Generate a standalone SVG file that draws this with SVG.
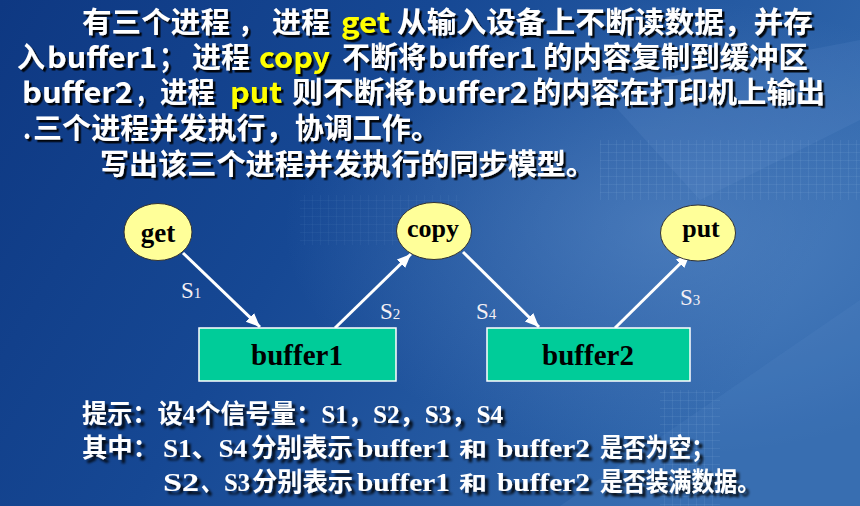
<svg xmlns="http://www.w3.org/2000/svg" width="860" height="506" viewBox="0 0 860 506">
  <defs>
    <linearGradient id="bg" x1="0" y1="0" x2="1" y2="0.35">
      <stop offset="0" stop-color="#0E3882"/>
      <stop offset="0.45" stop-color="#164894"/>
      <stop offset="1" stop-color="#3168AD"/>
    </linearGradient>
    <radialGradient id="glow" cx="0.78" cy="0.45" r="0.45">
      <stop offset="0" stop-color="#6F9CD4" stop-opacity="0.45"/>
      <stop offset="1" stop-color="#6F9CD4" stop-opacity="0"/>
    </radialGradient>
    <pattern id="grid" width="8" height="8" patternUnits="userSpaceOnUse">
      <path d="M8,0 L0,0 0,8" fill="none" stroke="#8FB3E0" stroke-opacity="0.25" stroke-width="1"/>
    </pattern>
    <filter id="sh" x="-5%" y="-20%" width="110%" height="150%">
      <feDropShadow dx="2.5" dy="2.5" stdDeviation="0.3" flood-color="#000" flood-opacity="0.9"/>
    </filter>
    <filter id="sh2" x="-5%" y="-20%" width="110%" height="150%">
      <feDropShadow dx="3.5" dy="3.5" stdDeviation="0.8" flood-color="#000" flood-opacity="0.85"/>
    </filter>
    <marker id="ah" markerUnits="userSpaceOnUse" markerWidth="16" markerHeight="14" refX="14" refY="6" orient="auto">
      <path d="M0,0 L14,6 L0,12 z" fill="#FFFFFF"/>
    </marker>
    <style>
      .t { font-family: "Noto Sans CJK SC", "Noto Sans", sans-serif; font-weight: bold; font-size: 29px; fill: #FFFFFF; filter: url(#sh); }
      .y { fill: #FFFF00; }
      .b { font-family: "Liberation Serif", "Noto Sans CJK SC", serif; font-weight: bold; font-size: 26px; fill: #FFFFFF; filter: url(#sh2); }
      .node ellipse { fill: #FFFF99; stroke: #333333; stroke-width: 1; }
      .node rect { fill: #00CC99; stroke: #FFFFFF; stroke-width: 1.5; }
      .lbl { font-family: "Liberation Serif", serif; font-weight: bold; fill: #000000; text-anchor: middle; }
      .s { font-family: "Liberation Serif", serif; fill: #F4F0F4; }
      .conn line { stroke: #FFFFFF; stroke-width: 3; marker-end: url(#ah); }
    </style>
  </defs>

  <!-- background -->
  <rect width="860" height="506" fill="url(#bg)"/>
  <rect width="860" height="506" fill="url(#glow)"/>
  <path d="M560,506 L860,300 L860,506 Z" fill="#5B8CC8" fill-opacity="0.18"/>
  <path d="M600,90 L860,40 L860,120 L700,200 Z" fill="#7FA7DA" fill-opacity="0.12"/>
  <rect x="600" y="140" width="260" height="60" fill="url(#grid)"/>
  <rect x="660" y="390" width="60" height="116" fill="url(#grid)"/>
  <rect x="300" y="195" width="160" height="50" fill="url(#grid)" opacity="0.5"/>

  <!-- title text -->
  <g id="title">
    <text class="t" y="33">
      <tspan x="82" textLength="148" lengthAdjust="spacingAndGlyphs">有三个进程</tspan>
      <tspan x="238" textLength="26" lengthAdjust="spacingAndGlyphs">，</tspan>
      <tspan x="272" textLength="58" lengthAdjust="spacingAndGlyphs">进程</tspan>
      <tspan x="341" class="y" textLength="49" lengthAdjust="spacingAndGlyphs">get</tspan>
      <tspan x="397" textLength="416" lengthAdjust="spacingAndGlyphs">从输入设备上不断读数据，并存</tspan>
    </text>
    <text class="t" y="68">
      <tspan x="17" textLength="28" lengthAdjust="spacingAndGlyphs">入</tspan>
      <tspan x="47" textLength="110" lengthAdjust="spacingAndGlyphs">buffer1</tspan>
      <tspan x="159" textLength="26" lengthAdjust="spacingAndGlyphs">；</tspan>
      <tspan x="192" textLength="58" lengthAdjust="spacingAndGlyphs">进程</tspan>
      <tspan x="259" class="y" textLength="71" lengthAdjust="spacingAndGlyphs">copy</tspan>
      <tspan x="342" textLength="84" lengthAdjust="spacingAndGlyphs">不断将</tspan>
      <tspan x="428" textLength="109" lengthAdjust="spacingAndGlyphs">buffer1</tspan>
      <tspan x="543" textLength="265" lengthAdjust="spacingAndGlyphs">的内容复制到缓冲区</tspan>
    </text>
    <text class="t" y="103">
      <tspan x="22" textLength="111" lengthAdjust="spacingAndGlyphs">buffer2</tspan>
      <tspan x="135" textLength="22" lengthAdjust="spacingAndGlyphs">，</tspan>
      <tspan x="160" textLength="55" lengthAdjust="spacingAndGlyphs">进程</tspan>
      <tspan x="230" class="y" textLength="52" lengthAdjust="spacingAndGlyphs">put</tspan>
      <tspan x="292" textLength="123" lengthAdjust="spacingAndGlyphs">则不断将</tspan>
      <tspan x="417" textLength="111" lengthAdjust="spacingAndGlyphs">buffer2</tspan>
      <tspan x="532" textLength="293" lengthAdjust="spacingAndGlyphs">的内容在打印机上输出</tspan>
    </text>
    <text class="t" y="139">
      <tspan x="23" textLength="8" lengthAdjust="spacingAndGlyphs">.</tspan>
      <tspan x="33" textLength="407" lengthAdjust="spacingAndGlyphs">三个进程并发执行，协调工作。</tspan>
    </text>
    <text class="t" y="175" x="100" textLength="495" lengthAdjust="spacingAndGlyphs">写出该三个进程并发执行的同步模型。</text>
  </g>

  <!-- connectors -->
  <g id="connectors" class="conn">
    <line x1="183" y1="253" x2="260" y2="327"/>
    <line x1="335" y1="328" x2="411" y2="254"/>
    <line x1="463" y1="252" x2="539" y2="327"/>
    <line x1="615" y1="328" x2="690" y2="254"/>
    <text class="s" x="181" y="298"><tspan font-size="23">S</tspan><tspan font-size="15">1</tspan></text>
    <text class="s" x="380" y="319"><tspan font-size="23">S</tspan><tspan font-size="15">2</tspan></text>
    <text class="s" x="476" y="319"><tspan font-size="23">S</tspan><tspan font-size="15">4</tspan></text>
    <text class="s" x="680" y="305"><tspan font-size="23">S</tspan><tspan font-size="15">3</tspan></text>
  </g>

  <!-- nodes -->
  <g id="get" class="node">
    <ellipse cx="158" cy="232" rx="34" ry="28.5"/>
    <text class="lbl" x="158" y="242" font-size="27">get</text>
  </g>
  <g id="copy" class="node">
    <ellipse cx="434" cy="231" rx="37.5" ry="28.5"/>
    <text class="lbl" x="433" y="237" font-size="26">copy</text>
  </g>
  <g id="put" class="node">
    <ellipse cx="698" cy="233" rx="37.5" ry="28"/>
    <text class="lbl" x="701" y="237" font-size="26">put</text>
  </g>
  <g id="buffer1" class="node">
    <rect x="199" y="328" width="197" height="53"/>
    <text class="lbl" x="297" y="365" font-size="29">buffer1</text>
  </g>
  <g id="buffer2" class="node">
    <rect x="487" y="328" width="203" height="53"/>
    <text class="lbl" x="588" y="365" font-size="29">buffer2</text>
  </g>

  <!-- hint text -->
  <g id="hint">
    <text class="b" x="82" y="423" textLength="421" lengthAdjust="spacingAndGlyphs">提示：设4个信号量：S1，S2，S3，S4</text>
    <text class="b" y="457">
      <tspan x="82" textLength="76" lengthAdjust="spacingAndGlyphs">其中：</tspan>
      <tspan x="163" textLength="84" lengthAdjust="spacingAndGlyphs">S1、S4</tspan>
      <tspan x="251" textLength="102" lengthAdjust="spacingAndGlyphs">分别表示</tspan>
      <tspan x="357" textLength="93" lengthAdjust="spacingAndGlyphs">buffer1</tspan>
      <tspan x="459" textLength="28" lengthAdjust="spacingAndGlyphs" font-size="20">和</tspan>
      <tspan x="497" textLength="93" lengthAdjust="spacingAndGlyphs">buffer2</tspan>
      <tspan x="600" textLength="114" lengthAdjust="spacingAndGlyphs">是否为空；</tspan>
    </text>
    <text class="b" y="491">
      <tspan x="163" textLength="36" lengthAdjust="spacingAndGlyphs">S2</tspan>
      <tspan x="201" textLength="21" lengthAdjust="spacingAndGlyphs">、</tspan>
      <tspan x="224" textLength="26" lengthAdjust="spacingAndGlyphs">S3</tspan>
      <tspan x="252" textLength="101" lengthAdjust="spacingAndGlyphs">分别表示</tspan>
      <tspan x="357" textLength="93" lengthAdjust="spacingAndGlyphs">buffer1</tspan>
      <tspan x="459" textLength="28" lengthAdjust="spacingAndGlyphs" font-size="20">和</tspan>
      <tspan x="497" textLength="93" lengthAdjust="spacingAndGlyphs">buffer2</tspan>
      <tspan x="600" textLength="160" lengthAdjust="spacingAndGlyphs">是否装满数据。</tspan>
    </text>
  </g>
</svg>
